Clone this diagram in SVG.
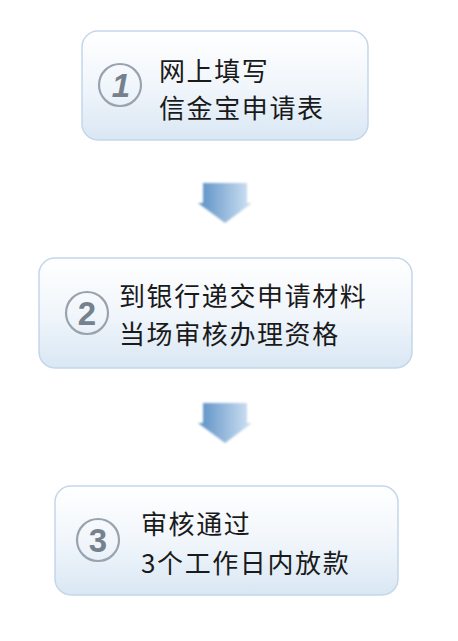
<svg xmlns="http://www.w3.org/2000/svg" width="458" height="641" viewBox="0 0 458 641">
<defs>
<linearGradient id="boxg" x1="0" y1="0" x2="0" y2="1">
<stop offset="0" stop-color="#ffffff"/>
<stop offset="0.5" stop-color="#f1f6fb"/>
<stop offset="1" stop-color="#d9e7f4"/>
</linearGradient>
<linearGradient id="arrg" x1="0" y1="0" x2="1" y2="0">
<stop offset="0" stop-color="#5a8fc4"/>
<stop offset="1" stop-color="#d3e4f4"/>
</linearGradient>
<filter id="soft" x="-20%" y="-20%" width="140%" height="140%">
<feGaussianBlur stdDeviation="0.8"/>
</filter>
</defs>
<style>
.box{fill:url(#boxg);stroke:#c3d6ea;stroke-width:1.5}
.ring{fill:none;stroke:#9aa3ad;stroke-width:2.2}
.num{font-family:"Liberation Sans",Arial,sans-serif;font-weight:bold;fill:#76818e;text-anchor:middle}
.t{font-family:"Noto Sans CJK SC","Noto Sans",sans-serif;font-size:26px;fill:#1a1a1a;letter-spacing:1.6px}
.arr{fill:url(#arrg);filter:url(#soft)}
</style>
<rect width="458" height="641" fill="#ffffff"/>
<g id="step1">
<rect class="box" x="82" y="31" width="286" height="109" rx="16"/>
<circle class="ring" cx="120" cy="85" r="21"/>
<text class="num" x="121" y="97" font-size="33" font-style="italic">1</text>
<text class="t" x="159" y="81">网上填写</text>
<text class="t" x="159" y="118">信金宝申请表</text>
</g>
<g id="step2">
<rect class="box" x="39" y="258" width="373" height="110" rx="16"/>
<circle class="ring" cx="87" cy="313" r="21"/>
<text class="num" x="87" y="325" font-size="33">2</text>
<text class="t" x="119" y="306" letter-spacing="2">到银行递交申请材料</text>
<text class="t" x="119" y="344" letter-spacing="2">当场审核办理资格</text>
</g>
<g id="step3">
<rect class="box" x="55" y="486" width="343" height="109" rx="16"/>
<circle class="ring" cx="98" cy="540" r="21"/>
<text class="num" x="98" y="552" font-size="33">3</text>
<text class="t" x="141" y="534">审核通过</text>
<text class="t" x="141" y="573">3个工作日内放款</text>
</g>
<g id="connectors">
<polygon class="arr" points="203,183 247,183 247,203 252,203 225,223 198,203 203,203"/>
<polygon class="arr" points="203,403 247,403 247,423 252,423 225,443 198,423 203,423"/>
</g>
</svg>
